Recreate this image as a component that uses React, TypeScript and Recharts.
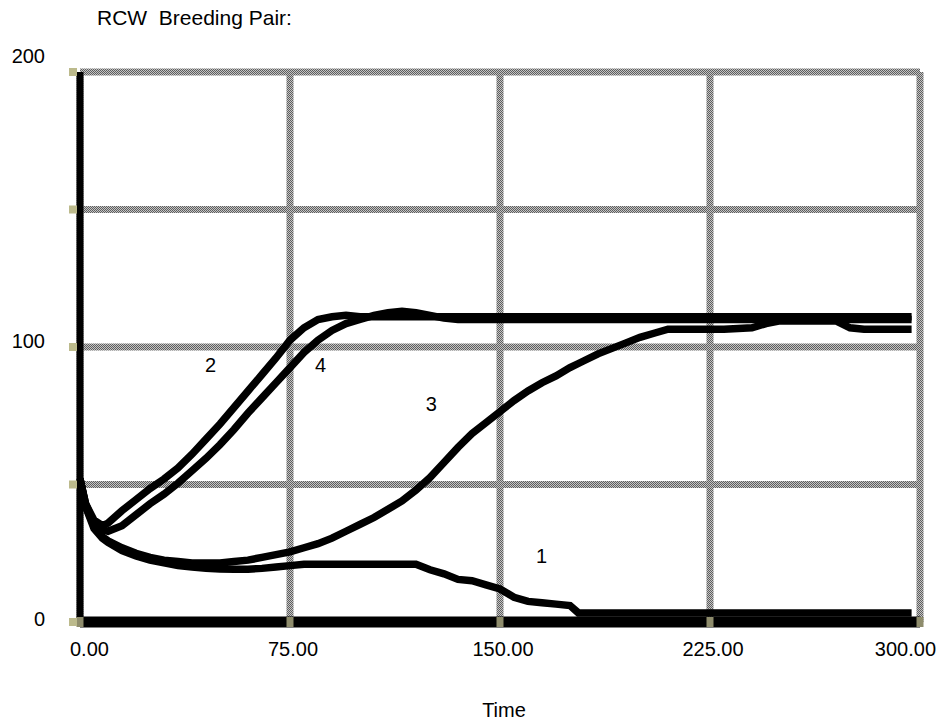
import React from 'react';
import { LineChart, Line, XAxis, YAxis, CartesianGrid, ReferenceDot } from 'recharts';

const times = [0, 2, 5, 8, 10, 15, 20, 25, 30, 35, 40, 45, 50, 55, 60, 65, 70, 75, 80, 85, 90, 95, 100, 105, 110, 115, 120, 125, 130, 135, 140, 145, 150, 155, 160, 165, 170, 175, 178, 180, 185, 190, 195, 200, 205, 210, 220, 230, 240, 245, 250, 260, 270, 275, 280, 290, 297];

const series1 = [52, 42, 34, 30.5, 29, 26, 24, 22.5, 21.5, 20.5, 20, 19.5, 19.3, 19.2, 19.2, 19.5, 20, 20.5, 21, 21, 21, 21, 21, 21, 21, 21, 21, 19, 17.5, 15.5, 15, 13.5, 12, 9, 7.5, 7, 6.5, 6, 3.3, 3.3, 3.3, 3.3, 3.3, 3.3, 3.3, 3.3, 3.3, 3.3, 3.3, 3.3, 3.3, 3.3, 3.3, 3.3, 3.3, 3.3, 3.3];

const series2 = [52, 43, 37, 35, 36, 40.5, 44.5, 48.5, 52, 56, 61, 66.5, 72, 78, 84, 90, 96, 102.5, 107, 110, 111, 111.5, 111, 111, 111, 111, 111, 111, 111, 111, 111, 111, 111, 111, 111, 111, 111, 111, 111, 111, 111, 111, 111, 111, 111, 111, 111, 111, 111, 111, 111, 111, 111, 111, 111, 111, 111];

const series3 = [52, 42, 35, 31, 29.5, 27, 25, 23.5, 22.5, 22, 21.5, 21.5, 21.5, 22, 22.5, 23.5, 24.5, 25.5, 27, 28.5, 30.5, 33, 35.5, 38, 41, 44, 48, 52.5, 58, 63.5, 68.5, 72.5, 76.5, 80.5, 84, 87, 89.5, 92.5, 94, 95, 97.5, 99.5, 101.5, 103.5, 105, 106.5, 106.5, 106.5, 107, 108.5, 109.5, 109.5, 109.5, 107, 106.5, 106.5, 106.5];

const series4 = [52, 43, 36, 33.5, 33, 35, 39, 43, 46.5, 50.5, 55, 59.5, 64.5, 70, 76, 81.5, 87, 92.5, 98, 102.5, 106, 108.5, 110, 111.5, 112.5, 113, 112.5, 111.5, 110.5, 110, 110, 110, 110, 110, 110, 110, 110, 110, 110, 110, 110, 110, 110, 110, 110, 110, 110, 110, 110, 110, 110, 110, 110, 110, 110, 110, 110];

const yTicks = [0, 50, 100, 150, 200];
const yTickLabels = ['0', '', '100', '', '200'];
const xTicks = [0, 75, 150, 225, 300];
const xTickLabels = ['0.00', '75.00', '150.00', '225.00', '300.00'];

const seriesNames = ['1', '2', '3', '4'];
const nameTimes = [164.8, 46.6, 125.5, 85.9];
const nameValues = [24, 93.5, 79.3, 93.5];

const data = times.map((t, i) => ({
  t,
  s1: series1[i],
  s2: series2[i],
  s3: series3[i],
  s4: series4[i],
}));

const FONT = '"Liberation Sans", Arial, Helvetica, sans-serif';

const YTick = (props: any) => {
  const { x, y, payload } = props;
  const i = yTicks.indexOf(payload.value);
  const label = yTickLabels[i];
  const dy = payload.value === 200 ? -9 : payload.value === 100 ? 1 : 4;
  return (
    <g>
      <rect x={x - 11} y={y - 4} width={8} height={8} fill="#bcba8c" />
      {label ? (
        <text x={x - 35} y={y + dy} textAnchor="end" fontSize={20} fontFamily={FONT} fill="#000">
          {label}
        </text>
      ) : null}
    </g>
  );
};

const XTick = (props: any) => {
  const { x, y, payload } = props;
  const i = xTicks.indexOf(payload.value);
  const label = xTickLabels[i];
  let anchor: 'start' | 'middle' | 'end' = 'middle';
  let tx = x + 3;
  if (i === 0) {
    anchor = 'start';
    tx = x - 10;
  } else if (i === xTicks.length - 1) {
    anchor = 'end';
    tx = x + 16;
  }
  return (
    <g>
      <rect x={x - 3.5} y={y - 5} width={7} height={10} fill="#8e8c6c" />
      <text x={tx} y={y + 34} textAnchor={anchor} fontSize={20} fontFamily={FONT} fill="#000">
        {label}
      </text>
    </g>
  );
};

export default function App() {
  return (
    <div style={{ position: 'relative', width: 938, height: 722, fontFamily: FONT, overflow: 'hidden' }}>
      <style>{'html, body { margin: 0; padding: 0; overflow: hidden; }'}</style>
      <div
        style={{
          position: 'absolute',
          left: 97,
          top: 7,
          fontSize: 21,
          lineHeight: '21px',
          whiteSpace: 'pre',
          color: '#000',
        }}
      >
        {'RCW  Breeding Pair:'}
      </div>
      <div
        style={{
          position: 'absolute',
          left: 454,
          width: 100,
          top: 700,
          fontSize: 20,
          lineHeight: '20px',
          textAlign: 'center',
          color: '#000',
        }}
      >
        Time
      </div>
      <LineChart width={938} height={722} data={data} margin={{ top: 72, right: 18, bottom: 0, left: 0 }}>
        <defs>
          <pattern id="checker" width="2" height="2" patternUnits="userSpaceOnUse">
            <rect x="0" y="0" width="2" height="2" fill="#c4c4c4" />
            <rect x="0" y="0" width="1" height="1" fill="#5e5e5e" />
            <rect x="1" y="1" width="1" height="1" fill="#5e5e5e" />
          </pattern>
        </defs>
        <CartesianGrid stroke="url(#checker)" strokeWidth={7} />
        <XAxis
          dataKey="t"
          type="number"
          domain={[0, 300]}
          ticks={xTicks}
          tick={<XTick />}
          tickLine={false}
          tickSize={0}
          tickMargin={0}
          height={100}
          axisLine={{ stroke: '#000', strokeWidth: 11 }}
          interval={0}
        />
        <YAxis
          type="number"
          domain={[0, 200]}
          ticks={yTicks}
          tick={<YTick />}
          tickLine={false}
          tickSize={0}
          tickMargin={0}
          width={80}
          axisLine={{ stroke: '#000', strokeWidth: 7 }}
          interval={0}
        />
        <Line dataKey="s1" stroke="#000" strokeWidth={7.5} dot={false} isAnimationActive={false} type="linear" />
        <Line dataKey="s2" stroke="#000" strokeWidth={7.5} dot={false} isAnimationActive={false} type="linear" />
        <Line dataKey="s3" stroke="#000" strokeWidth={7.5} dot={false} isAnimationActive={false} type="linear" />
        <Line dataKey="s4" stroke="#000" strokeWidth={7.5} dot={false} isAnimationActive={false} type="linear" />
        {seriesNames.map((n, i) => (
          <ReferenceDot
            key={n}
            x={nameTimes[i]}
            y={nameValues[i]}
            r={0}
            fill="none"
            stroke="none"
            label={{ value: n, position: 'center', fontSize: 20, fill: '#000', fontFamily: FONT }}
          />
        ))}
      </LineChart>
    </div>
  );
}
